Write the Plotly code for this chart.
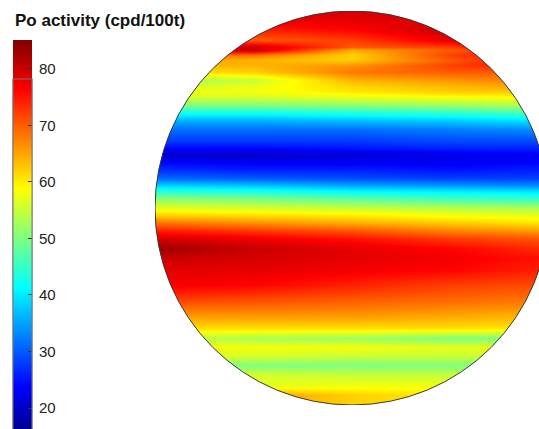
import numpy as np
import plotly.graph_objects as go

# Column positions across the disc (normalised, -1 = left rim, 1 = right rim)
col_x = [-1.0, -0.5, 0.0, 0.5, 1.0]

# Row positions as screen heights (pixels from the top of the disc image area)
row_py = [11, 20, 30, 40, 47, 50, 55, 60, 65, 72, 80, 85, 92, 100, 107, 113, 120,
          130, 140, 148, 155, 162, 170, 178, 185, 192, 200, 208, 215, 222, 230,
          238, 248, 258, 270, 285, 300, 315, 328, 338, 347, 356, 365, 375, 386,
          395, 405]

# Po activity (cpd/100t) along each row, left -> right
activity = [
    [80, 80, 79, 80, 80],
    [78, 78, 78, 79, 80],
    [74, 74, 76, 80, 82],
    [72, 70, 72, 78, 83],
    [76, 80, 70, 72, 80],
    [76, 80, 64, 70, 76],
    [70, 68, 62, 72, 76],
    [66, 64, 62, 70, 78],
    [64, 64, 66, 72, 76],
    [60, 62, 68, 70, 70],
    [52, 55, 64, 66, 68],
    [55, 57, 62, 64, 66],
    [58, 58, 60, 62, 62],
    [54, 54, 55, 56, 57],
    [48, 48, 49, 50, 52],
    [42, 42, 43, 44, 46],
    [36, 36, 37, 38, 40],
    [31, 31, 31, 32, 33],
    [28, 28, 28, 29, 29],
    [24, 24, 25, 26, 26],
    [20, 20, 21, 22, 23],
    [24, 23, 23, 23, 24],
    [27, 26, 26, 25, 26],
    [31, 30, 29, 28, 28],
    [38, 37, 35, 34, 33],
    [45, 44, 42, 41, 40],
    [52, 51, 49, 47, 46],
    [57, 56, 55, 54, 53],
    [62, 61, 60, 58, 57],
    [68, 66, 64, 62, 60],
    [74, 72, 70, 67, 65],
    [79, 77, 75, 72, 70],
    [83, 80, 78, 76, 73],
    [80, 79, 78, 77, 75],
    [78, 78, 77, 76, 74],
    [77, 76, 74, 72, 71],
    [72, 71, 70, 69, 68],
    [66, 66, 66, 65, 64],
    [61, 61, 61, 61, 60],
    [55, 53, 52, 50, 50],
    [58, 58, 58, 57, 57],
    [56, 56, 55, 55, 55],
    [51, 50, 50, 50, 50],
    [56, 56, 55, 55, 55],
    [58, 57, 58, 58, 58],
    [60, 66, 62, 60, 60],
    [62, 64, 62, 60, 60],
]

cbar_ticks = [20, 30, 40, 50, 60, 70, 80]
cmin, cmax = 15, 85

# Disc centre (pixels) and radius, used to map rows into data units
CY, R = 208.0, 197.0
row_y = [(CY - p) / R for p in row_py]

jet = [[0.0, "rgb(0,0,128)"], [0.125, "rgb(0,0,255)"], [0.375, "rgb(0,255,255)"],
       [0.625, "rgb(255,255,0)"], [0.875, "rgb(255,0,0)"], [1.0, "rgb(128,0,0)"]]

W, H = 539, 429
bar_common = dict(
    xref="container", x=13 / W, xanchor="left", xpad=0,
    yref="container", y=1 - 44 / H, yanchor="top", ypad=0,
    thicknessmode="pixels", thickness=19,
    lenmode="pixels", len=(cmax - cmin) * 5.65,
    outlinewidth=1, outlinecolor="#777",
    tickvals=cbar_ticks,
    tickfont=dict(family="Liberation Sans, Arial", size=15, color="#222"),
)

fig = go.Figure()
# Disc map; its colour bar carries the tick labels
fig.add_trace(go.Heatmap(
    x=col_x, y=row_y, z=activity,
    colorscale=jet, zmin=cmin, zmax=cmax, zsmooth="best",
    colorbar=dict(**bar_common, ticks="outside", ticklen=4,
                  tickcolor="rgba(0,0,0,0)"),
    hoverinfo="skip",
))
# Off-range helper whose colour bar draws the small inside tick marks on top
fig.add_trace(go.Heatmap(
    x=[10], y=[10], z=[[cmin]],
    colorscale=jet, zmin=cmin, zmax=cmax,
    colorbar=dict(**bar_common, ticks="inside", ticklen=4, tickcolor="#333",
                  showticklabels=False),
    hoverinfo="skip",
))

# White mask outside the disc
theta = np.linspace(0, 2 * np.pi, 361)
circ = " ".join(f"L {np.cos(t):.5f},{np.sin(t):.5f}" for t in theta[1:])
mask_path = ("M -1.3,-1.3 L 1.3,-1.3 L 1.3,1.3 L -1.3,1.3 Z "
             f"M 1,0 {circ} Z")
fig.add_shape(type="path", path=mask_path, xref="x", yref="y",
              fillcolor="white", fillrule="evenodd", line=dict(width=0),
              layer="above")
fig.add_shape(type="circle", x0=-1, x1=1, y0=-1, y1=1, xref="x", yref="y",
              line=dict(color="#3a3a3a", width=1), layer="above")

fig.add_annotation(
    text="<b>Po activity (cpd/100t)</b>", xref="paper", yref="paper",
    x=(13 - 155) / 384, y=(405 - 20) / 394, xanchor="left", yanchor="middle",
    showarrow=False, font=dict(family="Liberation Sans, Arial", size=17, color="#111"),
)

fig.update_xaxes(range=[-1, (539 - 352) / R], visible=False, fixedrange=True)
fig.update_yaxes(range=[-1, 1], visible=False, fixedrange=True)
fig.update_layout(
    width=W, height=H, margin=dict(l=155, r=0, t=11, b=24),
    paper_bgcolor="white", plot_bgcolor="white",
)
fig.write_html("out.html")
